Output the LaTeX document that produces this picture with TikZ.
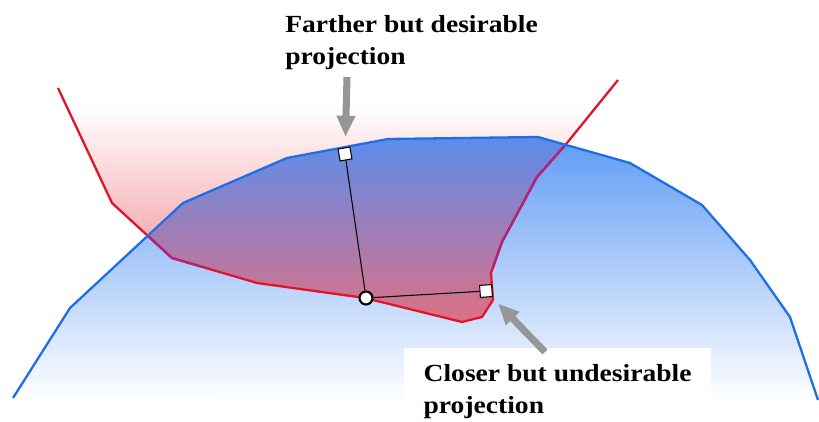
\documentclass[tikz,border=0pt]{standalone}
\usepackage{fontspec}
\setmainfont{Liberation Serif}
\newfontfamily\lblfont[FakeStretch=1.12]{Liberation Serif}
\usepackage{xcolor}
\usepackage{tikz}
\usetikzlibrary{arrows.meta,positioning,calc}

\definecolor{curveblue}{RGB}{30,110,230}
\definecolor{curvered}{RGB}{225,20,40}
\definecolor{curvepurple}{RGB}{175,35,125}
\definecolor{fillblue}{RGB}{95,155,245}
\definecolor{fillred}{RGB}{240,125,135}
\definecolor{fillpink}{RGB}{251,208,212}
\definecolor{mixtop}{RGB}{92,140,236}
\definecolor{mixmid}{RGB}{150,142,205}
\definecolor{mixbot}{RGB}{222,112,132}
\definecolor{arrowgray}{RGB}{150,150,150}

\def\redpath{(58,88) -- (112,203) -- (172,258) -- (257,283) -- (365,298) -- (462,322)
  -- (482,317) -- (493,300) -- (491,273) -- (502,242) -- (537,177) -- (567,143) -- (618,80)}
\def\bluepath{(13,398) -- (70,308) -- (183,203) -- (287,158) -- (388,139) -- (538,137)
  -- (630,163) -- (702,205) -- (750,260) -- (790,317) -- (818,400)}

\begin{document}
\begin{tikzpicture}[x=0.02cm,y=-0.02cm,
  proj/.style={draw=black,fill=white,line width=0.6pt,minimum size=0.24cm,inner sep=0pt},
  lbl/.style={font=\lblfont\fontsize{14}{18.5}\selectfont\bfseries,align=left},
  grayarrow/.style={arrowgray,line width=4pt,-{Triangle[width=10pt,length=12pt]}}]
  \useasboundingbox (0,0) rectangle (819,422);
  % red region
  \begin{scope}
    \clip \redpath -- cycle;
    \shade[top color=white,middle color=fillpink,bottom color=fillred] (0,105) rectangle (819,322);
  \end{scope}
  % blue region
  \begin{scope}
    \clip \bluepath -- cycle;
    \shade[top color=fillblue,bottom color=white] (0,137) rectangle (819,400);
  \end{scope}
  % overlap
  \begin{scope}
    \clip \bluepath -- cycle;
    \clip \redpath -- cycle;
    \shade[top color=mixtop,middle color=mixmid,bottom color=mixbot] (0,137) rectangle (819,322);
  \end{scope}
  % curves
  \draw[curvered,line width=1.3pt] \redpath;
  \begin{scope}
    \clip \bluepath -- cycle;
    \clip (0,0) rectangle (819,268);
    \draw[curvepurple,line width=1.3pt] \redpath;
  \end{scope}
  \draw[curveblue,line width=1.3pt] \bluepath;
  % projections
  \node[circle,draw=black,fill=white,line width=1.2pt,minimum size=0.26cm,inner sep=0pt] (foot) at (366,298) {};
  \node[proj,rotate=10] (far) at (345,154) {};
  \node[proj,rotate=4] (near) at (486,291) {};
  \draw[line width=0.6pt] (foot) -- (far);
  \draw[line width=0.6pt] (foot) -- (near);
  % labels
  \node[lbl,anchor=north west,inner sep=0pt] (farlbl) at (285,15) {Farther but desirable\\projection};
  \node[lbl,anchor=north west,fill=white,inner xsep=11pt,inner ysep=9pt] (nearlbl) at (404,348) {Closer but undesirable\\projection};
  % arrows
  \coordinate (farTail) at (347,77);
  \coordinate (nearTail) at (545,352);
  \draw[grayarrow,shorten >=6pt] (farTail) -- (far);
  \draw[grayarrow,shorten >=5pt] (nearTail) -- (near);
\end{tikzpicture}
\end{document}
